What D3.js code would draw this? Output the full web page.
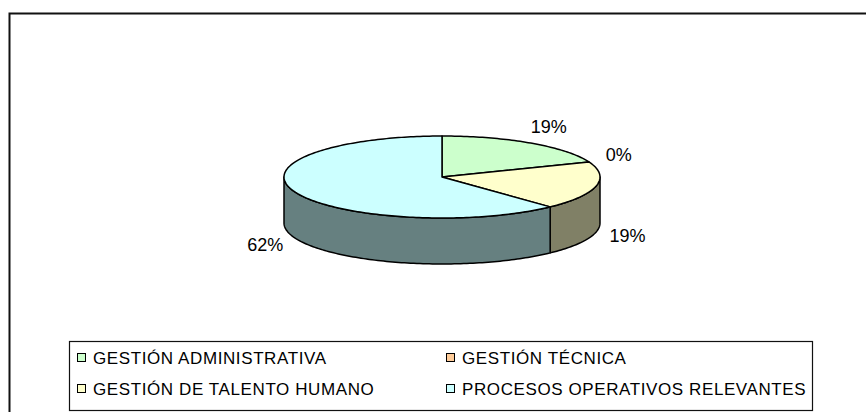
<!DOCTYPE html>
<html>
<head>
<meta charset="utf-8">
<script src="https://cdn.jsdelivr.net/npm/d3@7"></script>
<style>
  html, body { margin: 0; padding: 0; background: #fff; }
  svg { display: block; font-family: "Liberation Sans", Arial, sans-serif; }
</style>
</head>
<body>
<svg id="chart" width="866" height="412"></svg>
<script>
// Distribution of processes by area
const categories = [
  "GESTIÓN ADMINISTRATIVA",
  "GESTIÓN TÉCNICA",
  "GESTIÓN DE TALENTO HUMANO",
  "PROCESOS OPERATIVOS RELEVANTES"
];
const values = [19, 0, 19, 62];
const topColors = ["#CCFFCC", "#FFCC99", "#FFFFCC", "#CCFFFF"];
const sideColors = ["#668066", "#806652", "#808066", "#668080"];

const svg = d3.select("#chart");
const W = 866, H = 412;

// outer chart frame (right and bottom edges fall outside the view)
svg.append("path")
  .attr("d", `M9.5,${H} L9.5,13.5 L${W},13.5`)
  .attr("fill", "none")
  .attr("stroke", "#111")
  .attr("stroke-width", 2);

// 3D pie geometry
const cx = 442, cy = 177, rx = 158, ry = 41, depth = 46;
const pie = d3.pie().sort(null).value(d => d)(values);

const px = a => cx + rx * Math.sin(a);
const py = a => cy - ry * Math.cos(a);

function arcPts(a0, a1, dy) {
  const n = Math.max(2, Math.ceil(Math.abs(a1 - a0) / 0.02));
  return d3.range(n + 1).map(i => {
    const a = a0 + (a1 - a0) * i / n;
    return [px(a), py(a) + dy];
  });
}

const line = d3.line();
const g = svg.append("g");

// side walls: only the front half (pi/2 .. 3pi/2) is visible
pie.forEach((s, i) => {
  const a0 = Math.max(s.startAngle, Math.PI / 2);
  const a1 = Math.min(s.endAngle, 3 * Math.PI / 2);
  if (a1 <= a0) return;
  const top = arcPts(a0, a1, 0);
  const bot = arcPts(a1, a0, depth);
  g.append("path")
    .attr("d", line(top.concat(bot)) + "Z")
    .attr("fill", sideColors[i])
    .attr("stroke", "#000")
    .attr("stroke-width", 1.5)
    .attr("stroke-linejoin", "round");
});

// top faces
pie.forEach((s, i) => {
  if (s.endAngle - s.startAngle <= 0) return;
  const pts = [[cx, cy]].concat(arcPts(s.startAngle, s.endAngle, 0));
  g.append("path")
    .attr("d", line(pts) + "Z")
    .attr("fill", topColors[i])
    .attr("stroke", "#000")
    .attr("stroke-width", 1.5)
    .attr("stroke-linejoin", "round");
});

// percentage labels
pie.forEach((s, i) => {
  const a = (s.startAngle + s.endAngle) / 2;
  const front = Math.cos(a) < -0.1;
  const lx = cx + (rx + 32) * Math.sin(a);
  const ly = cy - (ry + 20) * Math.cos(a) + (front ? depth : 0);
  svg.append("text")
    .attr("x", lx)
    .attr("y", ly)
    .attr("text-anchor", "middle")
    .attr("dominant-baseline", "central")
    .attr("font-size", 18)
    .attr("fill", "#000")
    .text(values[i] + "%");
});

// legend
const leg = svg.append("g");
leg.append("rect")
  .attr("x", 69.5).attr("y", 341.5)
  .attr("width", 743).attr("height", 69)
  .attr("fill", "#fff")
  .attr("stroke", "#111")
  .attr("stroke-width", 1.2);

const colX = [77, 446];
const rowY = [358, 389];
categories.forEach((c, i) => {
  const col = i % 2, row = Math.floor(i / 2);
  const item = leg.append("g")
    .attr("transform", `translate(${colX[col]},${rowY[row]})`);
  item.append("rect")
    .attr("x", 0.5).attr("y", -4.5)
    .attr("width", 8).attr("height", 8)
    .attr("fill", topColors[i])
    .attr("stroke", "#000")
    .attr("stroke-width", 1);
  item.append("text")
    .attr("x", 16)
    .attr("y", 0)
    .attr("dominant-baseline", "central")
    .attr("font-size", 17)
    .attr("letter-spacing", 0.6)
    .attr("fill", "#000")
    .text(c);
});
</script>
</body>
</html>
